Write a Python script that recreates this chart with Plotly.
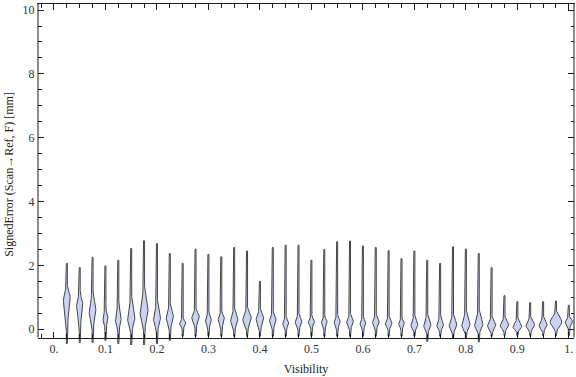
import numpy as np
import plotly.graph_objects as go

# ---------------- data ----------------
visibility = [0.025, 0.05, 0.075, 0.1, 0.125, 0.15, 0.175, 0.2, 0.225, 0.25,
              0.275, 0.3, 0.325, 0.35, 0.375, 0.4, 0.425, 0.45, 0.475, 0.5,
              0.525, 0.55, 0.575, 0.6, 0.625, 0.65, 0.675, 0.7, 0.725, 0.75,
              0.775, 0.8, 0.825, 0.85, 0.875, 0.9, 0.925, 0.95, 0.975, 1.0]

# extreme values (ends of the thin tails)
err_min = [-0.45, -0.42, -0.42, -0.35, -0.45, -0.50, -0.50, -0.45, -0.35, -0.22,
           -0.22, -0.22, -0.22, -0.22, -0.22, -0.22, -0.22, -0.22, -0.22, -0.22,
           -0.22, -0.22, -0.22, -0.22, -0.22, -0.22, -0.22, -0.22, -0.38, -0.22,
           -0.28, -0.30, -0.40, -0.22, -0.20, -0.20, -0.20, -0.20, -0.20, -0.20]
err_max = [2.06, 1.93, 2.25, 1.98, 2.16, 2.53, 2.77, 2.68, 2.37, 2.06,
           2.51, 2.34, 2.27, 2.56, 2.45, 1.50, 2.56, 2.63, 2.63, 2.16,
           2.50, 2.74, 2.76, 2.61, 2.56, 2.46, 2.21, 2.45, 2.16, 2.06,
           2.58, 2.51, 2.37, 1.93, 1.05, 0.86, 0.83, 0.86, 0.88, 0.75]

# body of each violin: lower end, mode, upper end
body_low = [-0.13, -0.13, -0.13, -0.08, -0.13, -0.19, -0.19, -0.19, -0.13, -0.03,
            -0.03, -0.08, -0.08, -0.13, -0.13, -0.13, -0.08, -0.08, -0.08, -0.03,
            -0.08, -0.08, -0.08, -0.08, -0.08, -0.08, -0.08, -0.13, -0.19, -0.13,
            -0.19, -0.19, -0.19, -0.19, -0.13, -0.13, -0.13, -0.13, -0.13, -0.03]
body_mode = [0.96, 0.75, 0.55, 0.33, 0.28, 0.33, 0.54, 0.33, 0.38, 0.18,
             0.38, 0.28, 0.33, 0.28, 0.33, 0.33, 0.28, 0.18, 0.23, 0.23,
             0.23, 0.23, 0.23, 0.18, 0.23, 0.18, 0.18, 0.12, 0.12, 0.12,
             0.12, 0.12, 0.12, 0.12, 0.12, 0.07, 0.12, 0.12, 0.23, 0.23]
body_high = [1.48, 1.27, 1.33, 0.75, 0.96, 1.17, 1.48, 0.96, 0.86, 0.39,
             0.70, 0.60, 0.60, 0.75, 0.75, 0.70, 0.60, 0.44, 0.54, 0.44,
             0.44, 0.49, 0.54, 0.44, 0.49, 0.44, 0.39, 0.49, 0.54, 0.49,
             0.54, 0.65, 0.70, 0.44, 0.44, 0.39, 0.44, 0.44, 0.60, 0.44]
# relative density at the mode (full violin width, in x-axis units)
peak_density = [0.0136, 0.0122, 0.0130, 0.0097, 0.0111, 0.0142, 0.0155, 0.0136, 0.0142, 0.0122,
                0.0149, 0.0116, 0.0122, 0.0142, 0.0169, 0.0149, 0.0130, 0.0116, 0.0130, 0.0122,
                0.0111, 0.0116, 0.0130, 0.0111, 0.0130, 0.0130, 0.0111, 0.0136, 0.0142, 0.0130,
                0.0149, 0.0161, 0.0161, 0.0161, 0.0169, 0.0175, 0.0175, 0.0161, 0.0227, 0.0149]

x_ticks = [0.0, 0.1, 0.2, 0.3, 0.4, 0.5, 0.6, 0.7, 0.8, 0.9, 1.0]
x_ticktext = ["0.", "0.1", "0.2", "0.3", "0.4", "0.5", "0.6", "0.7", "0.8", "0.9", "1."]
y_ticks = [0, 2, 4, 6, 8, 10]

# ---------------- layout constants ----------------
W, H = 576, 377
ML, MR, MT, MB = 38, 2, 4, 32
X_RANGE = [-0.031, 1.010]
Y_RANGE = [-0.495, 10.19]
FRAME_BOTTOM = -0.26
PX = (X_RANGE[1] - X_RANGE[0]) / (W - ML - MR)

FILL = "#cbd2f4"
EDGE = "#454545"
FRAME = "#1a1a1a"
LABEL = "#333333"
FONT = "Liberation Serif"

fig = go.Figure()

for v, lo, hi, bl, m, bh, w in zip(visibility, err_min, err_max,
                                   body_low, body_mode, body_high, peak_density):
    ys = np.linspace(lo, hi, 500)
    sd = max(m - bl, 0.03) / 2.5
    su = max(bh - m, 0.03) / 2.5
    s = np.where(ys < m, sd, su)
    body = (w / 2) * np.exp(-0.5 * ((ys - m) / s) ** 2)
    tail = 0.5 * PX
    hw = np.maximum(body, tail)
    xs = np.concatenate([v + hw, (v - hw)[::-1], [v + hw[0]]])
    yy = np.concatenate([ys, ys[::-1], [ys[0]]])
    fig.add_trace(go.Scatter(
        x=xs, y=yy, mode="lines", fill="toself", fillcolor=FILL,
        line=dict(color=EDGE, width=1), hoverinfo="skip", showlegend=False))

# empty trace to create the mirrored top axis
fig.add_trace(go.Scatter(x=[], y=[], xaxis="x2", yaxis="y", showlegend=False))

pos = (FRAME_BOTTOM - Y_RANGE[0]) / (Y_RANGE[1] - Y_RANGE[0])

tickfont = dict(family=FONT, size=12, color=LABEL)
fig.update_layout(
    width=W, height=H,
    margin=dict(l=ML, r=MR, t=MT, b=MB, autoexpand=False),
    paper_bgcolor="white", plot_bgcolor="white",
    xaxis=dict(
        range=X_RANGE, anchor="free", position=pos, automargin=False,
        showgrid=False, zeroline=False,
        showline=True, linecolor=FRAME, linewidth=1,
        ticks="inside", ticklen=6, tickcolor=FRAME, tickwidth=1,
        tickmode="array", tickvals=x_ticks, ticktext=x_ticktext,
        tickfont=tickfont,
        minor=dict(ticks="inside", ticklen=3.5, dtick=0.025, tick0=0, tickcolor=FRAME, showgrid=False),
        title=dict(text="Visibility", font=dict(family=FONT, size=12, color="#222"), standoff=9),
    ),
    xaxis2=dict(
        range=X_RANGE, overlaying="x", side="top", anchor="y", automargin=False,
        showgrid=False, zeroline=False,
        showline=True, linecolor=FRAME, linewidth=1,
        ticks="inside", ticklen=6, tickcolor=FRAME,
        tickmode="array", tickvals=x_ticks, showticklabels=False,
        minor=dict(ticks="inside", ticklen=3.5, dtick=0.025, tick0=0, tickcolor=FRAME, showgrid=False),
    ),
    yaxis=dict(
        range=Y_RANGE, anchor="x", automargin=False,
        showgrid=False, zeroline=False,
        showline=True, linecolor="rgba(0,0,0,0)", mirror="ticks",
        ticks="inside", ticklen=6, tickcolor=FRAME, tickwidth=1,
        tickmode="array", tickvals=y_ticks,
        tickfont=tickfont,
        minor=dict(ticks="inside", ticklen=3.5, dtick=0.5, tick0=0, tickcolor=FRAME, showgrid=False),
        title=dict(text="SignedError (Scan→Ref, F) [mm]",
                   font=dict(family=FONT, size=12, color="#222"), standoff=6),
    ),
    shapes=[
        dict(type="line", xref="paper", yref="paper", x0=0, x1=0, y0=pos, y1=1,
             line=dict(color=FRAME, width=1)),
        dict(type="line", xref="paper", yref="paper", x0=1, x1=1, y0=pos, y1=1,
             line=dict(color=FRAME, width=1)),
    ],
)

fig.write_html(
    "out.html",
    config={"displayModeBar": False},
    post_script="document.body.style.margin='0';document.body.style.padding='0';",
)
